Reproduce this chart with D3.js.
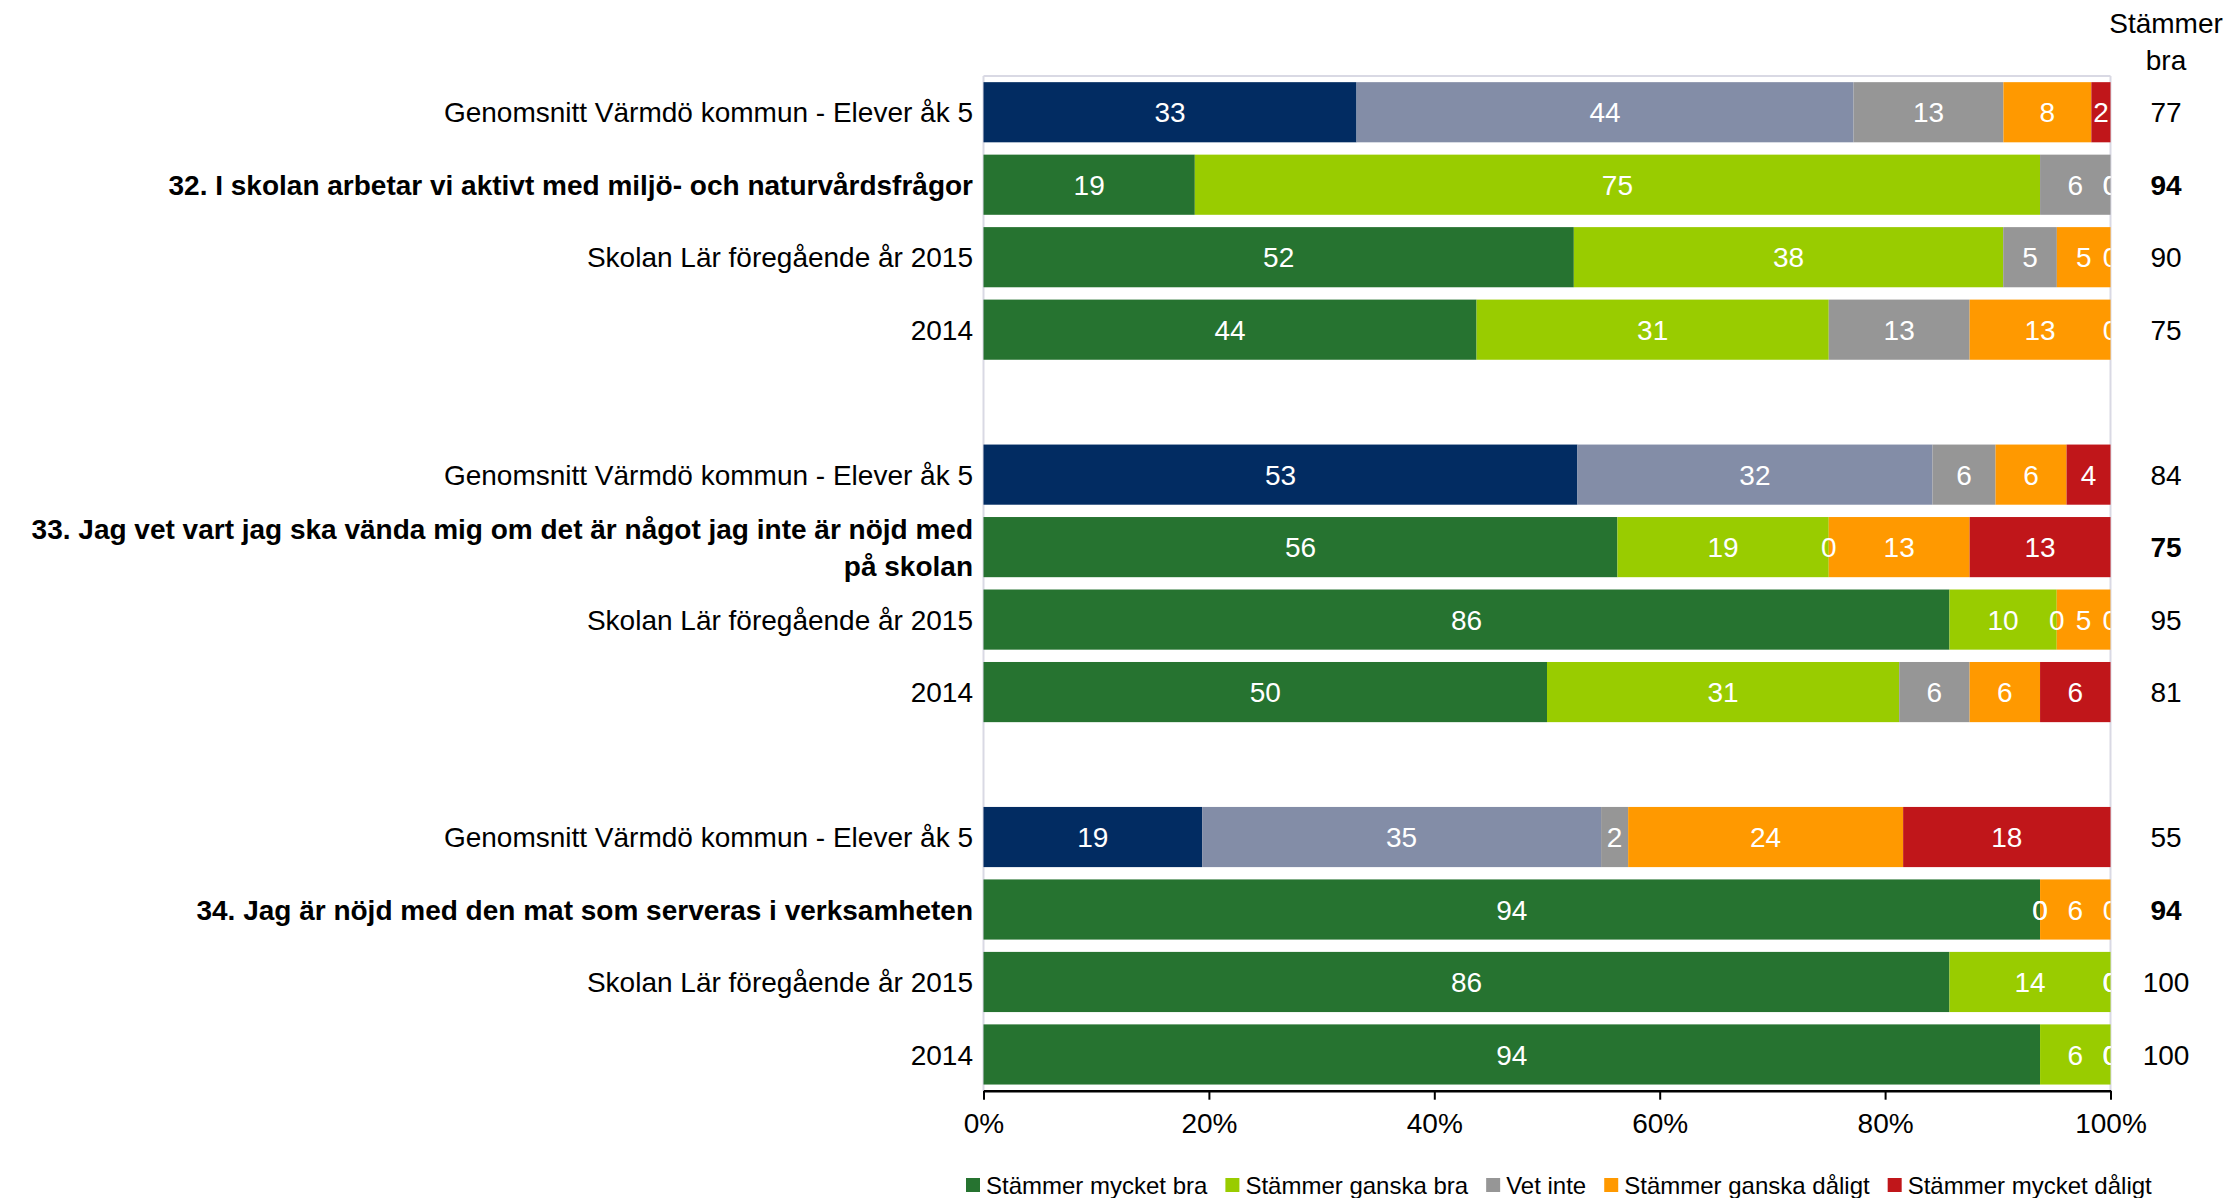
<!DOCTYPE html>
<html>
<head>
<meta charset="utf-8">
<script src="https://cdn.jsdelivr.net/npm/d3@7"></script>
<style>
  body { margin: 0; background: #fff; }
  text { font-family: "Liberation Sans", Arial, sans-serif; }
</style>
</head>
<body>
<script>
const W = 2230, H = 1198;

// series (legend order)
const series = ["Stämmer mycket bra", "Stämmer ganska bra", "Vet inte", "Stämmer ganska dåligt", "Stämmer mycket dåligt"];
const colorsMain = ["#267330", "#99cc00", "#969696", "#ff9900", "#c0161a"];
const colorsAvg  = ["#022c62", "#838da7", "#969696", "#ff9900", "#c0161a"];

// rows, top to bottom
const rowLabels = [
  "Genomsnitt Värmdö kommun - Elever åk 5",
  "32. I skolan arbetar vi aktivt med miljö- och naturvårdsfrågor",
  "Skolan Lär föregående år 2015",
  "2014",
  "Genomsnitt Värmdö kommun - Elever åk 5",
  "33. Jag vet vart jag ska vända mig om det är något jag inte är nöjd med\npå skolan",
  "Skolan Lär föregående år 2015",
  "2014",
  "Genomsnitt Värmdö kommun - Elever åk 5",
  "34. Jag är nöjd med den mat som serveras i verksamheten",
  "Skolan Lär föregående år 2015",
  "2014"
];
const rowType = ["avg", "q", "prev", "prev", "avg", "q", "prev", "prev", "avg", "q", "prev", "prev"];

const rowValues = [
  [33.1, 44.1, 13.3, 7.8, 1.7],
  [18.75, 75, 6.25, 0, 0],
  [52.38, 38.1, 4.76, 4.76, 0],
  [43.75, 31.25, 12.5, 12.5, 0],
  [52.7, 31.5, 5.6, 6.3, 3.9],
  [56.25, 18.75, 0, 12.5, 12.5],
  [85.71, 9.52, 0, 4.76, 0],
  [50, 31.25, 6.25, 6.25, 6.25],
  [19.4, 35.4, 2.4, 24.4, 18.4],
  [93.75, 0, 0, 6.25, 0],
  [85.71, 14.29, 0, 0, 0],
  [93.75, 6.25, 0, 0, 0]
];
const rightValues = [77, 94, 90, 75, 84, 75, 95, 81, 55, 94, 100, 100];
const xTicks = [0, 20, 40, 60, 80, 100];

const svg = d3.select("body").append("svg")
  .attr("width", W)
  .attr("height", H);

const plotL = 983.5, plotR = 2110.5, plotT = 76, plotB = 1090.7;

const x = d3.scaleLinear().domain([0, 100]).range([plotL, plotR]);
// 12 rows + 2 empty slots between groups
const slotOf = r => r + Math.floor(r / 4);
const y = d3.scaleBand().domain(d3.range(14)).range([plotT, plotB])
  .paddingInner(0.17).paddingOuter(0.085);

// plot frame
const frameColor = "#d9d9e4";
svg.append("line").attr("x1", plotL).attr("x2", plotR).attr("y1", plotT).attr("y2", plotT)
  .attr("stroke", frameColor).attr("stroke-width", 2);
svg.append("line").attr("x1", plotL).attr("x2", plotL).attr("y1", plotT).attr("y2", plotB)
  .attr("stroke", frameColor).attr("stroke-width", 2);
svg.append("line").attr("x1", plotR).attr("x2", plotR).attr("y1", plotT).attr("y2", plotB)
  .attr("stroke", frameColor).attr("stroke-width", 2);

// stacked segments
const rows = rowValues.map((vals, r) => {
  let acc = 0;
  return vals.map((v, i) => {
    const seg = { r, i, x0: acc, x1: acc + v, v };
    acc += v;
    return seg;
  });
});

const gBars = svg.append("g");
rows.forEach((segs, r) => {
  const cols = rowType[r] === "avg" ? colorsAvg : colorsMain;
  gBars.selectAll(null)
    .data(segs.filter(d => d.v > 0))
    .join("rect")
    .attr("x", d => x(d.x0))
    .attr("width", d => x(d.x1) - x(d.x0))
    .attr("y", y(slotOf(r)))
    .attr("height", y.bandwidth())
    .attr("fill", d => cols[d.i]);
});

// value labels, clipped to the plot area
svg.append("clipPath").attr("id", "plotclip")
  .append("rect").attr("x", plotL).attr("y", 0).attr("width", plotR - plotL).attr("height", H);

const gLab = svg.append("g").attr("clip-path", "url(#plotclip)");
rows.forEach((segs, r) => {
  gLab.selectAll(null)
    .data(segs)
    .join("text")
    .attr("x", d => x((d.x0 + d.x1) / 2))
    .attr("y", y(slotOf(r)) + y.bandwidth() / 2)
    .attr("dy", "0.36em")
    .attr("text-anchor", "middle")
    .attr("fill", "#fff")
    .attr("font-size", 28)
    .text(d => d3.format(".0f")(d.v));
});

// category labels
rowLabels.forEach((lab, r) => {
  const lines = lab.split("\n");
  const cy = y(slotOf(r)) + y.bandwidth() / 2;
  const lh = 37;
  const t = svg.append("text")
    .attr("text-anchor", "end")
    .attr("font-size", 28)
    .attr("font-weight", rowType[r] === "q" ? "bold" : "normal")
    .attr("fill", "#000");
  lines.forEach((ln, k) => {
    t.append("tspan")
      .attr("x", 973)
      .attr("y", cy + (k - (lines.length - 1) / 2) * lh)
      .attr("dy", "0.36em")
      .text(ln);
  });
});

// "Stämmer bra" column
svg.append("text").attr("x", 2166).attr("y", 33).attr("text-anchor", "middle")
  .attr("font-size", 28).text("Stämmer");
svg.append("text").attr("x", 2166).attr("y", 70).attr("text-anchor", "middle")
  .attr("font-size", 28).text("bra");

svg.selectAll(".rv")
  .data(rightValues)
  .join("text")
  .attr("class", "rv")
  .attr("x", 2166)
  .attr("y", (d, r) => y(slotOf(r)) + y.bandwidth() / 2)
  .attr("dy", "0.36em")
  .attr("text-anchor", "middle")
  .attr("font-size", 28)
  .attr("font-weight", (d, r) => rowType[r] === "q" ? "bold" : "normal")
  .text(d => d);

// x axis
const axis = svg.append("g")
  .attr("transform", `translate(0,${plotB})`)
  .call(d3.axisBottom(x).tickValues(xTicks).tickFormat(d => d + "%")
    .tickSize(9).tickSizeOuter(0).tickPadding(13));
axis.select(".domain").attr("stroke", "#000").attr("stroke-width", 2.5);
axis.selectAll(".tick line").attr("stroke", "#000").attr("stroke-width", 2);
axis.selectAll(".tick text").attr("font-size", 28).attr("fill", "#000")
  .attr("font-family", "Liberation Sans, Arial, sans-serif");

// legend
const legend = svg.append("g");
let lx = 966;
const ly = 1185;
series.forEach((s, i) => {
  legend.append("rect").attr("x", lx).attr("y", ly - 7).attr("width", 14).attr("height", 14)
    .attr("fill", colorsMain[i]);
  const t = legend.append("text").attr("x", lx + 20).attr("y", ly).attr("dy", "0.36em")
    .attr("font-size", 24).attr("fill", "#000").text(s);
  lx += 20 + t.node().getComputedTextLength() + 18;
});
</script>
</body>
</html>
